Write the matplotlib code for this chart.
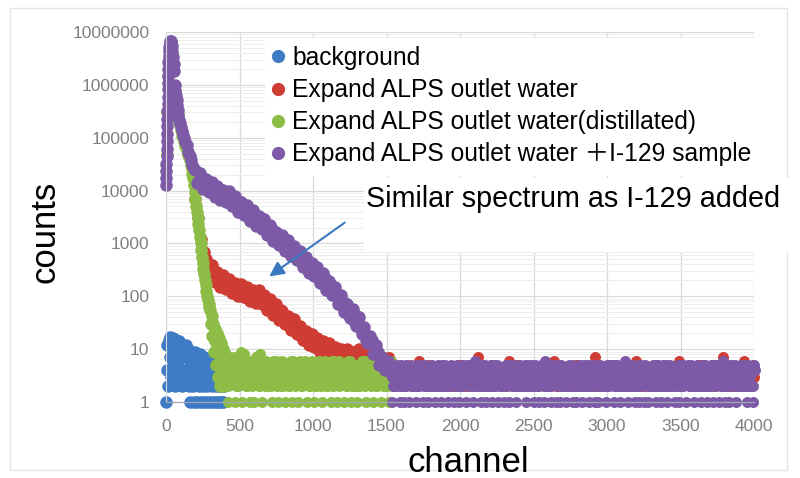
import matplotlib
matplotlib.use("Agg")
import matplotlib.pyplot as plt
import numpy as np
from matplotlib.lines import Line2D
from matplotlib.patches import Rectangle
from matplotlib.ticker import FixedLocator, FixedFormatter, LogLocator, NullFormatter

plt.rcParams["font.family"] = ["Liberation Sans", "Noto Sans CJK JP", "DejaVu Sans"]

# ---- data (channel, counts) ----
labels = [
    "background",
    "Expand ALPS outlet water",
    "Expand ALPS outlet water(distillated)",
    "Expand ALPS outlet water \uff0bI-129 sample",
]
colors = ["#3f7bc4", "#cf3c33", "#8dbd46", "#7c5aa6"]

# background: 0..395 step 5
bg_ch = list(range(0, 400, 5))
bg_counts = [1, 4, 12, 2, 15, 7, 17, 3, 11, 16, 5, 13, 2, 9, 15, 4, 12, 6, 14, 3,
             10, 12, 2, 8, 11, 4, 9, 12, 3, 7, 10, 2, 6, 1, 9, 4, 8, 2, 1, 6,
             9, 3, 1, 7, 5, 2, 8, 1, 4, 6, 2, 1, 7, 3, 5, 1, 2, 6, 4, 1,
             3, 6, 2, 1, 5, 3, 1, 4, 2, 5, 1, 3, 2, 1, 4, 2, 1, 3, 1, 2]

# expand ALPS outlet water: decay part (two interleaved sample sets)
red_ch = [200, 220, 240, 260, 275, 290, 300, 320, 340, 360, 380, 400, 420, 440, 460,
          480, 500, 520, 540, 560, 580, 600, 620, 640, 660, 680, 700, 720, 740, 760,
          780, 800, 820, 840, 860, 880, 900, 920, 940, 960, 980, 1000, 1020, 1040,
          1060, 1080, 1100, 1120, 1140, 1160, 1180, 1200, 1220, 1240, 1260, 1280,
          1300, 1320, 1340, 1360, 1380, 1400, 1420, 1440]
red_counts = [7000, 3000, 1200, 700, 500, 400, 360, 234, 245, 182, 234, 166, 190,
              132, 151, 166, 112, 135, 98, 129, 100, 120, 89, 93, 71, 87, 85, 55, 59,
              43, 54, 36, 40, 27, 30, 31, 19, 22, 15, 19, 14, 16, 11, 12, 9, 12, 12,
              8, 10, 7, 10, 7, 9, 6, 8, 9, 6, 8, 6, 8, 6, 8, 6, 6]
red_ch2 = [310, 330, 350, 370, 390, 410, 430, 450, 470, 490, 510, 530, 550, 570, 590,
           610, 630, 650, 670, 690, 710, 730, 750, 770, 790, 810, 830, 850, 870, 890,
           910, 930, 950, 970, 990, 1010, 1030, 1050, 1070, 1090, 1110, 1130, 1150,
           1170, 1190, 1210, 1230, 1250, 1270, 1290, 1310, 1330, 1350, 1370, 1390,
           1410, 1430]
red_counts2 = [385, 190, 282, 151, 254, 140, 216, 116, 180, 100, 174, 97, 151, 83, 132,
               75, 130, 71, 107, 56, 88, 45, 70, 36, 53, 30, 43, 23, 37, 19, 28, 15,
               22, 12, 19, 11, 16, 9, 14, 8, 13, 7, 11, 7, 10, 6, 10, 6, 9, 5, 10, 6,
               9, 5, 9, 5, 8]
# flat noise from channel 1450, one digit per 10 channels
red_flat_start = 1450
red_flat = ("5647545765 4534342435 3423432634 4324523432 3432434243 2434353423 "
            "4323432734 3424325342 4342434263 3423532432 2434242343 4325434246 "
            "3423432432 4342534243 3432435723 2434232453 4323432342 3424363423 "
            "4342432452 3423542432 2434632343 4323432352 3524342432 4342735423 "
            "3423432462 243453")

# distillated: steep part
green_ch = [5, 10, 15, 20, 25, 30, 40, 50, 60, 70, 80, 90, 100, 110, 120, 130, 140,
            150, 160, 170, 175, 180, 185, 190, 195, 200, 205, 210, 215, 220, 225,
            230, 235, 240, 245, 250, 255, 260, 265, 270, 275, 280, 285, 290, 295,
            300, 305, 310, 315, 320, 325, 330, 335, 340, 345, 350, 355, 360,
            365, 370, 375, 380, 385, 390, 395]
green_counts = [50000, 300000, 1500000, 3000000, 4500000, 5000000, 4000000, 2200000,
                800000, 450000, 280000, 190000, 140000, 110000, 85000, 70000, 58000,
                47000, 38000, 30000, 26000, 21000, 17000, 13000, 9500, 7000, 5200,
                3900, 3000, 2300, 1800, 1350, 1000, 750, 560, 420, 330, 260, 200,
                160, 125, 100, 85, 72, 62,
                55, 30, 42, 18, 30, 9, 24, 14, 5, 20, 11, 3, 16,
                7, 2, 13, 4, 10, 2, 6]
green_flat_start = 400
green_flat = ("2814637152 3918425163 1742815364 2516341526 4153261435 1624351426 "
              "3152641352 2416351463 5132641352 1426351643 3152461352 241635")
green_flat2_start = 405
green_flat2 = ("3524635243 4635243524 3652435243 5243625342 4352436253 3425634253 "
               "5243524362 4352635243 3524362534 2453624352 4362534253 63524")

# I-129 added
purple_ch = [0, 1, 2, 3, 4, 5, 6, 7, 8, 9, 10, 11, 12, 13, 14, 15, 16, 17, 18,
             20, 22, 25, 28, 32, 36, 40, 44, 48, 52, 56, 60, 64, 68, 72, 76, 80, 85,
             90, 95, 100, 108, 116, 124, 132, 140, 150, 160, 170, 180, 190,
             200, 220, 240, 260, 280, 300, 320, 340, 360, 380, 400, 420, 440, 460,
             480, 500, 520, 540, 560, 580, 600, 620, 640, 660, 680, 700, 720, 740,
             760, 780, 800, 820, 840, 860, 880, 900, 920, 940, 960, 980, 1000, 1020,
             1040, 1060, 1080, 1100, 1120, 1140, 1160, 1180, 1200, 1220, 1240, 1260,
             1280, 1300, 1320, 1340, 1360, 1380, 1400, 1420, 1440, 1460, 1480, 1500,
             1520]
purple_counts = [13000, 17000, 23000, 32000, 45000, 62000, 85000, 120000, 165000,
                 230000, 320000, 440000, 600000, 820000, 1100000, 1500000, 2000000,
                 2700000, 3500000, 4300000, 5200000, 6200000, 6800000, 6900000,
                 6400000, 5500000, 4300000, 3300000, 2500000, 1800000, 1000000,
                 780000, 650000, 520000, 420000, 340000, 270000, 220000, 190000,
                 160000, 135000, 115000, 98000, 84000, 72000, 53000, 45000, 38000,
                 31000, 26000,
                 24000, 14800, 16600, 11500, 14500, 10700, 12300, 8700, 9100, 7100,
                 8900, 9100, 6000, 6600, 4700, 6000, 4200, 4700, 3200, 3500, 3700,
                 2300, 2700, 1900, 2300, 1660, 1860, 1260, 1260, 930, 1120, 1100, 710,
                 780, 560, 690, 470, 500, 330, 360, 380, 240, 270, 186, 224, 155, 166,
                 107, 102, 72, 83, 76, 47, 48, 34, 42, 26, 26, 15, 15, 15, 8, 9, 5, 6,
                 4, 4]
purple_ch2 = [210, 230, 250, 270, 290, 310, 330, 350, 370, 390, 410, 430, 450, 470,
              490, 510, 530, 550, 570, 590, 610, 630, 650, 670, 690, 710, 730, 750,
              770, 790, 810, 830, 850, 870, 890, 910, 930, 950, 970, 990, 1010, 1030,
              1050, 1070, 1090, 1110, 1130, 1150, 1170, 1190, 1210, 1230, 1250, 1270,
              1290, 1310, 1330, 1350, 1370, 1390, 1410, 1430, 1450, 1470, 1490, 1510]
purple_counts2 = [14100, 21600, 10800, 16600, 9550, 14800, 7700, 12400, 6500, 10400,
                  6200, 9800, 5000, 7800, 3900, 6000, 3500, 5400, 2700, 4300, 2160,
                  3300, 1880, 2850, 1430, 2210, 1110, 1680, 940, 1430, 720, 1140, 575,
                  880, 490, 730, 360, 560, 280, 420, 237, 360, 180, 275, 133, 193, 104,
                  150, 72, 106, 51, 73, 39, 58, 28, 41, 19, 26, 13, 18, 8, 12, 5, 7,
                  4, 6]
purple_flat_start = 1530
purple_flat = ("5142531541 5413524152 4515314253 1354152531 2541351435 3154531652 "
               "4153514251 5451324155 1352514253 3515425154 4153165251 5413515431 "
               "3525131455 1452513541 5153421545 4515521436 3152531451 5415314255 "
               "1354152513 5241351455 3154521352 4153514251 5451326155 1352514253 "
               "35154215")
purple_flat2_start = 1535
purple_flat2 = ("3242342432 2434232423 4323424324 3242342432 2434232423 4323424324 "
                "3242342432 2434232423 4323424324 3242342432 2434232423 4323424324 "
                "3242342432 2434232423 4323424324 3242342432 2434232423 4323424324 "
                "3242342432 2434232423 4323424324 3242342432 2434232423 4323424324 "
                "32423424")

y_ticks = [1, 10, 100, 1000, 10000, 100000, 1000000, 10000000]
y_tick_labels = ["1", "10", "100", "1000", "10000", "100000", "1000000", "10000000"]
x_ticks = [0, 500, 1000, 1500, 2000, 2500, 3000, 3500, 4000]


def flat(start, digits):
    vals = [int(c) for c in digits.replace(" ", "")]
    return [start + 10 * i for i in range(len(vals))], vals


# (shaped parts, flat noise parts) per series, drawn in legend order
series = [
    ([(bg_ch, bg_counts)], []),
    ([(red_ch, red_counts), (red_ch2, red_counts2)],
     [flat(red_flat_start, red_flat)]),
    ([(green_ch, green_counts)],
     [flat(green_flat_start, green_flat), flat(green_flat2_start, green_flat2)]),
    ([(purple_ch, purple_counts), (purple_ch2, purple_counts2)],
     [flat(purple_flat_start, purple_flat), flat(purple_flat2_start, purple_flat2)]),
]

W, H = 800, 478
fig = plt.figure(figsize=(W / 100, H / 100), dpi=100)
ax = fig.add_axes([166 / W, 1 - 402 / H, (754 - 166) / W, (402 - 32) / H])

for (shaped, noise), c in zip(series, colors):
    for xs, ys in noise:
        ax.plot(xs, ys, ls="none", marker="o", ms=7.9, mew=0, color=c, clip_on=False)
    for xs, ys in shaped:
        ax.plot(xs, ys, ls="none", marker="o", ms=9, mew=0, color=c, clip_on=False)

ax.set_yscale("log")
ax.set_ylim(1, 1e7)
ax.set_xlim(0, 4000)
ax.yaxis.set_major_locator(FixedLocator(y_ticks))
ax.yaxis.set_major_formatter(FixedFormatter(y_tick_labels))
ax.yaxis.set_minor_locator(LogLocator(base=10, subs=np.arange(2, 10), numticks=20))
ax.yaxis.set_minor_formatter(NullFormatter())
ax.set_xticks(x_ticks)
ax.tick_params(which="both", length=0, labelsize=12.5, colors="#808080")
ax.tick_params(axis="y", pad=12)
ax.tick_params(axis="x", pad=12)
ax.grid(which="major", color="#d9d9d9", lw=0.9)
ax.grid(which="minor", axis="y", color="#eeeeee", lw=0.7)
ax.set_axisbelow(True)
for s in ["top", "right"]:
    ax.spines[s].set_visible(False)
ax.spines["left"].set_color("#d9d9d9")
ax.spines["bottom"].set_color("#a0a8b8")
ax.spines["bottom"].set_linewidth(0.9)

# outer chart border
fig.patches.append(Rectangle((10 / W, 1 - 470 / H), 777 / W, 462 / H, transform=fig.transFigure,
                             fill=False, ec="#e4e4e4", lw=1, zorder=0))
# white boxes behind legend and note
fig.patches.append(Rectangle((265 / W, 1 - 176 / H), 520 / W, 138 / H, transform=fig.transFigure,
                             fc="white", ec="none", zorder=1))
fig.patches.append(Rectangle((364 / W, 1 - 252 / H), 426 / W, 74 / H, transform=fig.transFigure,
                             fc="white", ec="none", zorder=1))

handles = [Line2D([0], [0], ls="none", marker="o", ms=9.5, mew=0, color=c) for c in colors]
fig.legend(handles, labels, loc="upper left", bbox_to_anchor=(269 / W, 1 - 46 / H),
           frameon=False, fontsize=17.7, handlelength=0.7, handletextpad=0.25,
           labelspacing=0.33, borderpad=0.0, borderaxespad=0)

fig.text(366 / W, 1 - 207 / H, "Similar spectrum as I-129 added", fontsize=20.7,
         ha="left", va="baseline", zorder=3)
fig.text(468 / W, 1 - 472 / H, "channel", fontsize=25, ha="center", va="baseline")
fig.text(45 / W, 1 - 232 / H, "counts", fontsize=25, rotation=90, ha="center", va="center")

# arrow (figure pixels are measured from the bottom)
ax.annotate("", xy=(267, H - 278), xycoords="figure pixels",
            xytext=(347, H - 221), textcoords="figure pixels",
            arrowprops=dict(arrowstyle="-|>", color="#3a78c2", lw=1.5, mutation_scale=22),
            annotation_clip=False)

fig.savefig("out.png", dpi=100)
